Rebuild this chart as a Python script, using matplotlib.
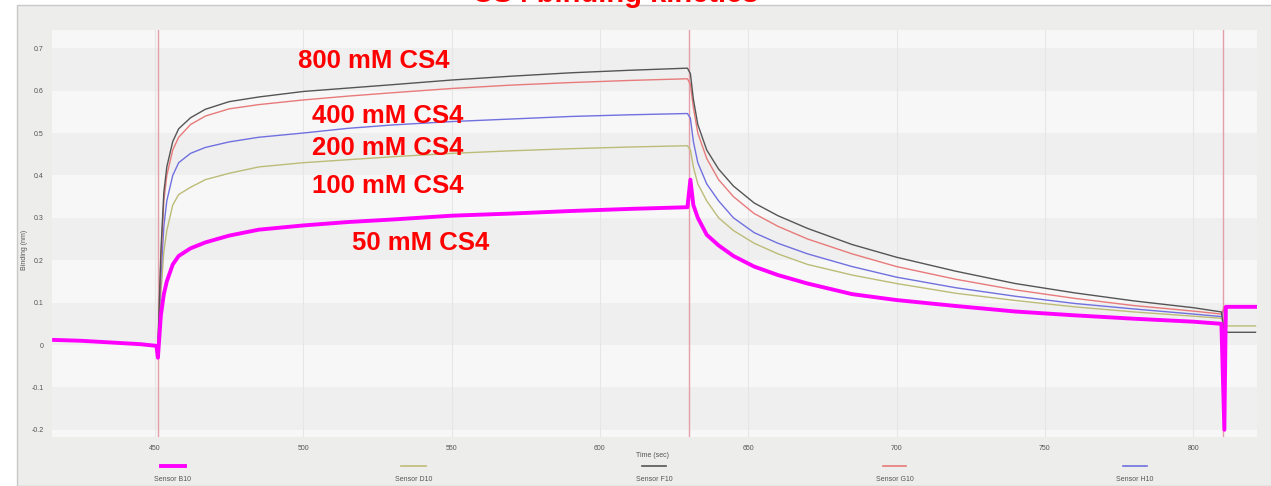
import matplotlib.pyplot as plt
from matplotlib.lines import Line2D
from matplotlib.patches import Rectangle

plt.rcParams['font.family'] = ['Liberation Sans', 'DejaVu Sans']

# sampled time points (sec)
time = [416, 425, 435, 445, 450.5, 451, 452, 453, 454, 456, 458, 462, 467, 475, 485,
        500, 515, 530, 550, 570, 590, 610, 629.5,
        630.5, 631.5, 633, 636, 640, 645, 652, 660, 670, 685, 700, 720, 740, 760, 780,
        800, 809.5, 810.5, 811, 815, 821]

# binding response (nm) per sensor
sensor_f10 = [0.012, 0.010, 0.006, 0.002, -0.002, -0.005, 0.22, 0.36, 0.42, 0.48, 0.51,
              0.536, 0.556, 0.574, 0.585, 0.598, 0.606, 0.614, 0.625, 0.634, 0.642, 0.648, 0.653,
              0.64, 0.58, 0.52, 0.46, 0.415, 0.375, 0.335, 0.305, 0.275, 0.237, 0.207, 0.174, 0.145,
              0.123, 0.104, 0.088, 0.078, 0.03, 0.03, 0.03, 0.03]
sensor_g10 = [0.012, 0.010, 0.006, 0.002, -0.002, -0.005, 0.20, 0.34, 0.40, 0.46, 0.49,
              0.52, 0.54, 0.557, 0.567, 0.578, 0.587, 0.595, 0.605, 0.613, 0.619, 0.624, 0.628,
              0.615, 0.56, 0.50, 0.44, 0.39, 0.35, 0.31, 0.28, 0.25, 0.215, 0.185, 0.155, 0.13,
              0.11, 0.093, 0.08, 0.073, 0.09, 0.09, 0.09, 0.09]
sensor_h10 = [0.012, 0.010, 0.006, 0.002, -0.002, -0.005, 0.16, 0.28, 0.34, 0.40, 0.43,
              0.452, 0.466, 0.479, 0.49, 0.50, 0.511, 0.519, 0.527, 0.533, 0.539, 0.543, 0.546,
              0.535, 0.48, 0.43, 0.38, 0.34, 0.30, 0.265, 0.24, 0.215, 0.185, 0.16, 0.135, 0.115,
              0.098, 0.085, 0.073, 0.067, 0.09, 0.09, 0.09, 0.09]
sensor_d10 = [0.012, 0.010, 0.006, 0.002, -0.002, -0.005, 0.12, 0.22, 0.27, 0.33, 0.355,
              0.372, 0.39, 0.405, 0.42, 0.43, 0.437, 0.444, 0.452, 0.458, 0.463, 0.467, 0.47,
              0.46, 0.42, 0.38, 0.34, 0.30, 0.27, 0.24, 0.215, 0.19, 0.165, 0.145, 0.122, 0.105,
              0.09, 0.078, 0.068, 0.063, 0.045, 0.045, 0.045, 0.045]
sensor_b10 = [0.012, 0.010, 0.006, 0.002, -0.002, -0.03, 0.07, 0.12, 0.15, 0.19, 0.21,
              0.228, 0.242, 0.258, 0.272, 0.282, 0.29, 0.296, 0.305, 0.31, 0.316, 0.321, 0.325,
              0.39, 0.33, 0.30, 0.26, 0.235, 0.21, 0.185, 0.165, 0.145, 0.12, 0.106, 0.092, 0.079,
              0.07, 0.062, 0.055, 0.05, -0.2, 0.09, 0.09, 0.09]

sensor_names = ['Sensor B10', 'Sensor D10', 'Sensor F10', 'Sensor G10', 'Sensor H10']
sensor_colors = ['#ff00ff', '#bcbc78', '#555555', '#e87a7a', '#7070e0']

step_times = [451, 630, 810]

conc_labels = ['800 mM CS4', '400 mM CS4', '200 mM CS4', '100 mM CS4', '50 mM CS4']
label_x = [523.8, 528.6, 528.6, 528.6, 539.7]
label_y = [0.671, 0.541, 0.464, 0.374, 0.240]

fig = plt.figure(figsize=(12.71, 4.86), dpi=100, facecolor='white')

# instrument software panel behind the plot
fig.add_artist(Rectangle((17 / 1271, 0), 1, 1 - 5 / 486, transform=fig.transFigure,
                         facecolor='#ededeb', edgecolor='#c8c8c8', lw=1, zorder=-10))

ax = fig.add_axes([52 / 1271, 1 - 437 / 486, (1257 - 52) / 1271, (437 - 30) / 486])
ax.set_facecolor('#f6f6f6')

# alternating horizontal bands
for i, lo in enumerate([-0.3, -0.2, -0.1, 0.0, 0.1, 0.2, 0.3, 0.4, 0.5, 0.6, 0.7]):
    ax.axhspan(lo, lo + 0.1, color='#efefef' if i % 2 else '#f7f7f7', lw=0, zorder=0)
for xt in [450, 500, 550, 600, 650, 700, 750, 800]:
    ax.axvline(xt, color='#e6e6e6', lw=0.8, zorder=0.5)

for st in step_times:
    ax.axvline(st, color='#e4a0a8', lw=1.0, zorder=1)

ax.plot(time, sensor_d10, color=sensor_colors[1], lw=1.0, zorder=2)
ax.plot(time, sensor_h10, color=sensor_colors[4], lw=1.0, zorder=2)
ax.plot(time, sensor_g10, color=sensor_colors[3], lw=1.0, zorder=2)
ax.plot(time, sensor_f10, color=sensor_colors[2], lw=1.0, zorder=2)
ax.plot(time, sensor_b10, color=sensor_colors[0], lw=2.8, zorder=3)

for txt, x, y in zip(conc_labels, label_x, label_y):
    ax.text(x, y, txt, color='#ff0000', fontsize=18.5, fontweight='bold',
            ha='center', va='center', zorder=5)

ax.set_xlim(415.3, 821.5)
ax.set_ylim(-0.217, 0.743)
ax.set_xticks([450, 500, 550, 600, 650, 700, 750, 800])
ax.set_yticks([-0.2, -0.1, 0, 0.1, 0.2, 0.3, 0.4, 0.5, 0.6, 0.7])
ax.set_yticklabels(['-0.2', '-0.1', '0', '0.1', '0.2', '0.3', '0.4', '0.5', '0.6', '0.7'])
ax.tick_params(length=0, labelsize=5, labelcolor='#555555', pad=6)
for s in ax.spines.values():
    s.set_visible(False)

fig.text(25 / 1271, 1 - 250 / 486, 'Binding (nm)', rotation=90, fontsize=5,
         color='#555555', ha='center', va='center')
fig.text(652 / 1271, 1 - 455 / 486, 'Time (sec)', fontsize=5, color='#555555',
         ha='center', va='center')

# legend row under the axis
for k, (name, col) in enumerate(zip(sensor_names, sensor_colors)):
    cx = (173 + 240.5 * k) / 1271
    fig.add_artist(Line2D([cx - 12 / 1271, cx + 12 / 1271], [1 - 466 / 486] * 2,
                          color=col, lw=2.8 if k == 0 else 1.2, transform=fig.transFigure))
    fig.text(cx, 1 - 479 / 486, name, fontsize=5, color='#555555', ha='center', va='center')

fig.text(615 / 1271, 1 - 1.5 / 486, 'CS4 binding kinetics', color='#ff0000',
         fontsize=21, fontweight='bold', ha='center', va='baseline')

fig.savefig('out.png', dpi=100, facecolor=fig.get_facecolor())
